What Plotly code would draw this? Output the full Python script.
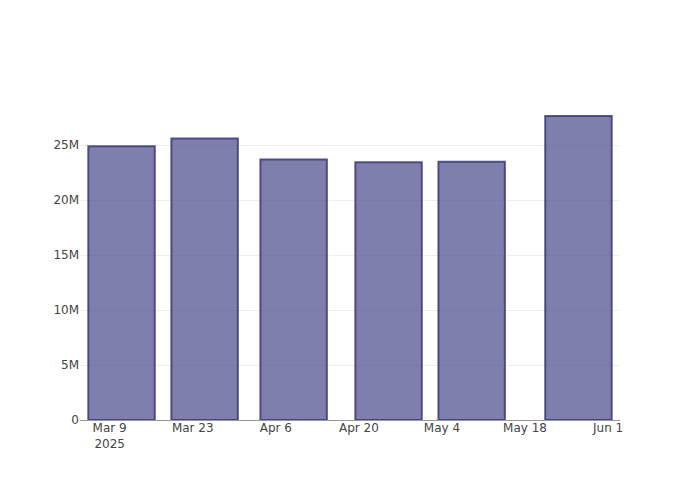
import plotly.graph_objects as go

dates = ["2025-03-11", "2025-03-25", "2025-04-09", "2025-04-25", "2025-05-09", "2025-05-27"]
values = [24.9e6, 25.6e6, 23.7e6, 23.45e6, 23.5e6, 27.65e6]

fig = go.Figure(
    go.Bar(
        x=dates,
        y=values,
        marker=dict(
            color="rgba(72,72,140,0.7)",
            line=dict(color="rgba(60,58,120,0.85)", width=2),
        ),
    )
)

fig.update_layout(
    width=700,
    height=500,
    template="none",
    paper_bgcolor="white",
    plot_bgcolor="white",
    font=dict(family="DejaVu Sans", size=12, color="#444"),
    margin=dict(l=72, r=88, t=92, b=88),
    showlegend=False,
)
fig.update_xaxes(
    type="date",
    range=["2025-03-04", "2025-06-03"],
    tick0="2025-03-09",
    dtick=14 * 86400000,
    showgrid=False,
    showline=True,
    linecolor="#999",
    linewidth=1,
    ticks="",
    ticklabelstandoff=-3,
    zeroline=False,
)
fig.update_yaxes(
    showgrid=True,
    gridcolor="#eee",
    zeroline=False,
    showline=False,
    ticks="",
)

fig.write_html("out.html")
